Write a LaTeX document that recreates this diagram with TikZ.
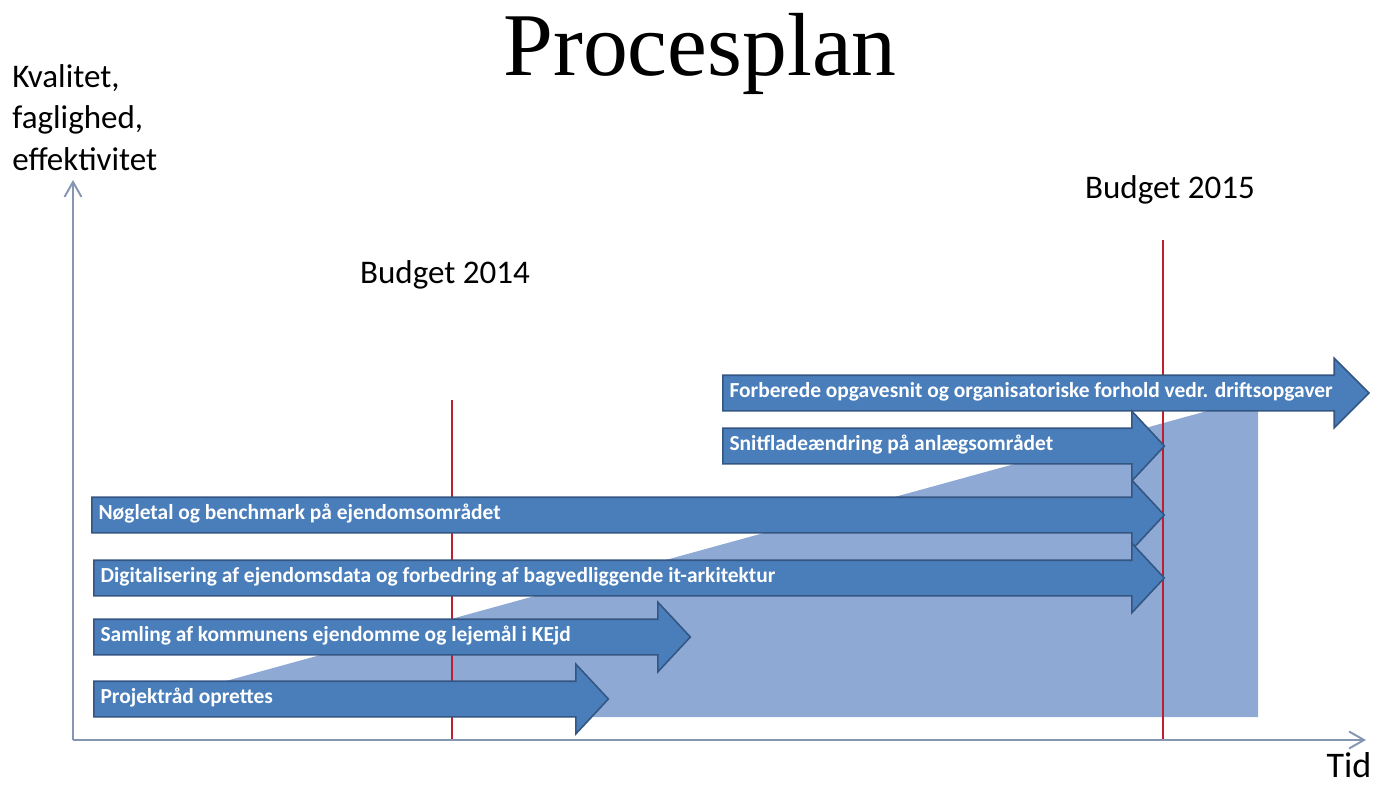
\documentclass[tikz,border=0pt]{standalone}
\usepackage{fontspec}
\setmainfont{Carlito}
\newfontfamily\titlefont{Liberation Serif}
\usepackage{tikz}
\usetikzlibrary{arrows.meta,shapes.arrows}
\definecolor{barblue}{RGB}{74,126,187}
\definecolor{barline}{RGB}{52,86,130}
\definecolor{areablue}{RGB}{142,170,212}
\definecolor{axisgray}{RGB}{132,150,176}
\definecolor{budgetred}{RGB}{190,30,45}
% fixed-width shaft text, left aligned
\newcommand{\shaft}[2]{\makebox[#1][l]{#2}}

\begin{document}
\begin{tikzpicture}[x=0.02cm, y=-0.02cm,
  bar/.style={single arrow, anchor=tail, draw=barline, fill=barblue,
    line width=0.9pt, single arrow head extend=0.34cm,
    single arrow tip angle=94, inner xsep=0.12cm, inner ysep=0pt,
    text height=0.42cm, text depth=0.26cm, text=white,
    font=\bfseries\fontsize{12.2}{14}\selectfont},
  axis/.style={-{Straight Barb[length=0.3cm,width=0.34cm]}, axisgray, line width=1.1pt},
  budget/.style={budgetred, line width=1.2pt},
  lbl/.style={font=\fontsize{18.8}{23.6}\selectfont, inner sep=0pt}]

\useasboundingbox (0,0) rectangle (1378,785);

% Title and axis labels
\node[font=\titlefont\fontsize{51}{60}\selectfont, anchor=base, inner sep=0pt] (title) at (700,75) {Procesplan};
\node[lbl, align=left, anchor=north west] (ylabel) at (12,64) {Kvalitet,\\faglighed,\\effektivitet};
\node[lbl, font=\fontsize{20.5}{25}\selectfont, anchor=base] (xlabel) at (1349,777) {Tid};

% Rising area
\fill[areablue] (95,717) -- (1258,397) -- (1258,717) -- cycle;

% Budget markers
\node[lbl, anchor=base] (b14) at (445,283) {Budget 2014};
\node[lbl, anchor=base] (b15) at (1170,198) {Budget 2015};
\draw[budget] (452,400) -- (452,740);
\draw[budget] (1163,240) -- (1163,740);

% Axes
\coordinate (origin) at (73,740);
\coordinate (ytop) at (73,180);
\coordinate (xend) at (1366,740);
\draw[axis] (origin) -- (ytop);
\draw[axis] (origin) -- (xend);

% Activities
\node[bar, single arrow tip angle=90] (drift) at (722,393) {\shaft{12.3cm}{Forberede opgavesnit og organisatoriske forhold vedr. driftsopgaver}};
\node[bar] (snit) at (722,446) {\shaft{8.23cm}{Snitfladeændring på anlægsområdet}};
\node[bar] (noegle) at (91,515) {\shaft{20.85cm}{Nøgletal og benchmark på ejendomsområdet}};
\node[bar] (digi) at (93,578) {\shaft{20.81cm}{Digitalisering af ejendomsdata og forbedring af bagvedliggende it-arkitektur}};
\node[bar] (samling) at (93,637) {\shaft{11.33cm}{Samling af kommunens ejendomme og lejemål i KEjd}};
\node[bar] (raad) at (93,699) {\shaft{9.69cm}{Projektråd oprettes}};

\end{tikzpicture}
\end{document}
